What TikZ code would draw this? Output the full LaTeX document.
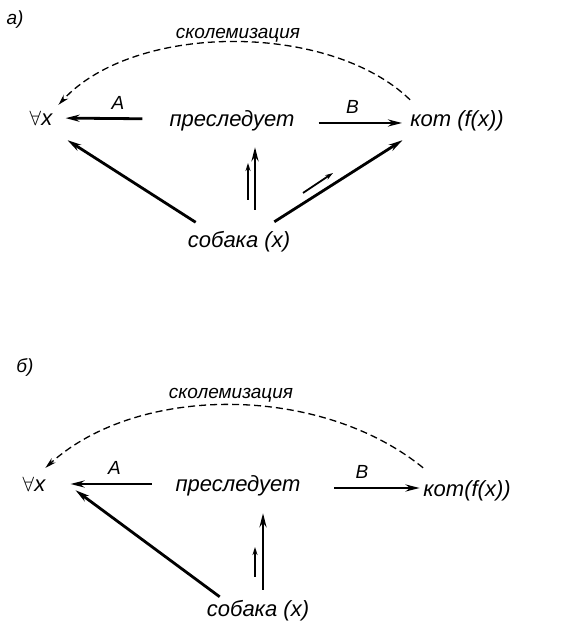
\documentclass[tikz,border=0pt]{standalone}
\usepackage{fontspec}
\setmainfont{Liberation Sans}
\usepackage{tikz}
\usetikzlibrary{arrows.meta}

\begin{document}
\begin{tikzpicture}[
    x=1pt, y=1pt,
    every node/.style={inner sep=0pt},
    term/.style={font=\fontsize{22}{24}\selectfont\itshape, text height=14pt, text depth=5pt},
    tag/.style={font=\fontsize{19}{20}\selectfont\itshape},
    lab/.style={font=\fontsize{19}{20}\selectfont\itshape},
    skol/.style={font=\fontsize{19}{20}\selectfont\itshape},
    arr/.style={-{Stealth[length=14pt,width=7pt]}, line width=2.8pt},
    tick/.style={-{Stealth[length=8pt,width=5pt]}, line width=1.8pt},
    skarr/.style={-{Stealth[length=11pt,width=6pt]}, line width=1.3pt,
                  dash pattern=on 7pt off 4pt}
]
\useasboundingbox (0,0) rectangle (563,629);

% a)
\node[tag] (partA) at (15,609) {а)};
\node[term] (forallA) at (41,508) {$\forall$x};
\node[term] (presA) at (232,507) {преследует};
\node[term] (kotA) at (457,507) {кот (f(x))};
\node[term] (sobA) at (239,386) {собака (x)};
\node[skol] (skolA) at (238,594) {сколемизация};
\coordinate (tickA1) at (248,429);
\coordinate (tickA2) at (248,466);
\coordinate (tickA3) at (303,436);
\coordinate (tickA4) at (333,456);

\draw[arr, shorten <=27pt, shorten >=13pt] ([yshift=3pt]presA.west) -- node[lab, above=8pt, xshift=7pt] {A} ([yshift=3pt]forallA.east);
\draw[arr, shorten <=24pt, shorten >=8pt] ([yshift=-1pt]presA.east) -- node[lab, above=8pt] {B} ([yshift=-1pt]kotA.west);
\draw[arr] ([shift={(8,11)}]sobA.north west) -- ([shift={(15,-9.5)}]forallA.south east);
\draw[arr] ([shift={(16,23.5)}]sobA.north) -- ([shift={(23,-15.5)}]presA.south);
\draw[arr] ([shift={(-16,11.5)}]sobA.north east) -- ([shift={(-7.5,-8.5)}]kotA.south west);
\draw[tick] (tickA1) -- (tickA2);
\draw[tick] (tickA3) -- (tickA4);
\draw[skarr] ([yshift=12.5pt]kotA.north west) .. controls (330,607) and (135,607) .. ([shift={(6,6.5)}]forallA.north east);

% b)
\node[tag] (partB) at (25,261) {б)};
\node[term] (forallB) at (34,142) {$\forall$x};
\node[term] (presB) at (238,142) {преследует};
\node[term] (kotB) at (467,137) {кот(f(x))};
\node[term] (sobB) at (258,17) {собака (x)};
\node[skol] (skolB) at (231,234) {сколемизация};
\coordinate (tickB1) at (255,52);
\coordinate (tickB2) at (255,82);

\draw[arr, shorten <=23.5pt, shorten >=25pt] ([yshift=3pt]presB.west) -- node[lab, above=8pt, xshift=4pt] {A} ([yshift=3pt]forallB.east);
\draw[arr, shorten <=33.5pt, shorten >=3.5pt] ([yshift=-1pt]presB.east) -- node[lab, above=8pt] {B} ([yshift=4pt]kotB.west);
\draw[arr] ([shift={(13,5.5)}]sobB.north west) -- ([shift={(30,6.5)}]forallB.south east);
\draw[arr] ([shift={(5,12.5)}]sobB.north) -- ([shift={(25,-16.5)}]presB.south);
\draw[tick] (tickB1) -- (tickB2);
\draw[skarr] ([yshift=14.5pt]kotB.north west) .. controls (320,245) and (138,245) .. ([yshift=9.5pt]forallB.north east);
\end{tikzpicture}
\end{document}
